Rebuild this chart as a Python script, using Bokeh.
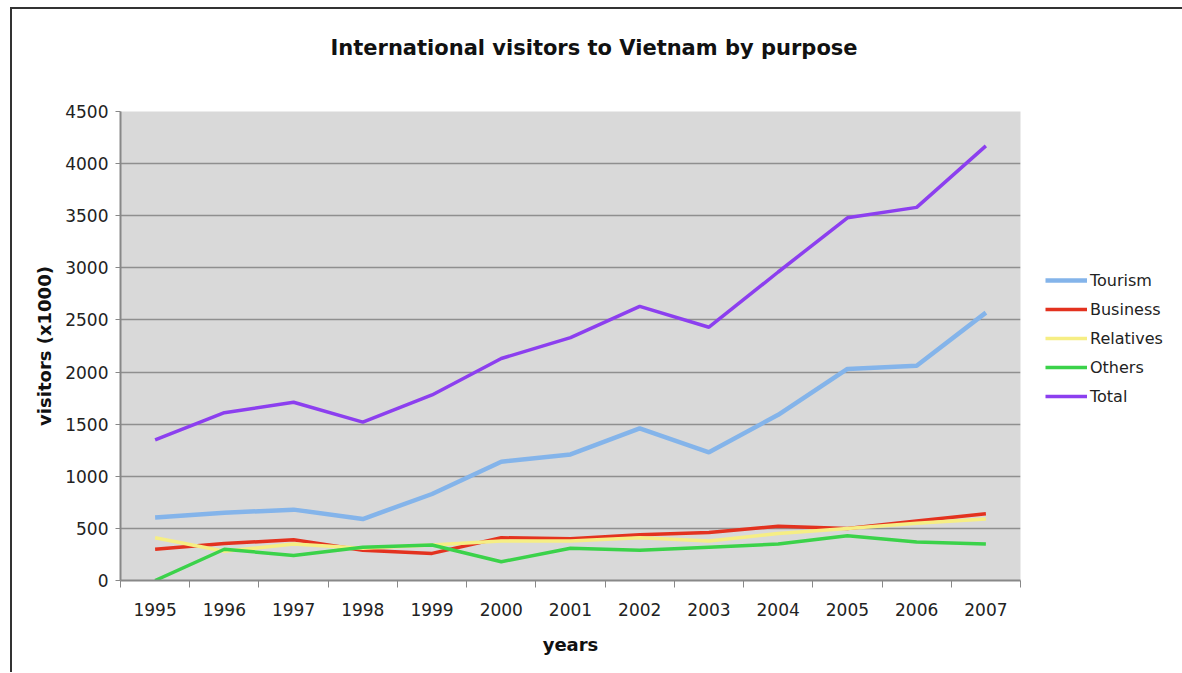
from bokeh.plotting import figure
from bokeh.models import FixedTicker, Legend, LegendItem, Range1d, Title
from bokeh.embed import file_html
from bokeh.resources import INLINE

years = [1995, 1996, 1997, 1998, 1999, 2000, 2001, 2002, 2003, 2004, 2005, 2006, 2007]
tourism = [605, 650, 680, 590, 830, 1140, 1210, 1460, 1230, 1590, 2030, 2060, 2570]
business = [300, 355, 390, 290, 260, 410, 400, 440, 460, 520, 500, 570, 640]
relatives = [410, 280, 350, 310, 340, 380, 380, 410, 380, 450, 500, 550, 590]
others = [0, 300, 240, 320, 340, 180, 310, 290, 320, 350, 430, 370, 350]
total = [1350, 1610, 1710, 1520, 1780, 2130, 2330, 2630, 2430, 2960, 3480, 3580, 4170]
y_ticks = [0, 500, 1000, 1500, 2000, 2500, 3000, 3500, 4000, 4500]

FONT = "DejaVu Sans"

p = figure(frame_width=900, frame_height=469, output_backend="svg", toolbar_location=None,
           x_range=Range1d(years[0] - 0.5, years[-1] + 0.5), y_range=Range1d(0, 4500),
           min_border_left=108, min_border_right=162, min_border_top=100, min_border_bottom=92,
           title="International visitors to Vietnam by purpose",
           styles={"margin-left": "10px", "margin-top": "7px",
                   "border-left": "2px solid #333", "border-top": "2px solid #333"})

p.background_fill_color = "#d9d9d9"
p.border_fill_color = "white"
p.outline_line_color = None

p.title.text_font = FONT
p.title.text_font_size = "21px"
p.title.text_font_style = "bold"
p.title.text_color = "#111"
p.title.align = "left"
p.title.offset = 210
p.title.standoff = 49

# empty spacer between title and plot area
p.add_layout(Title(text=" ", text_font_size="14px", standoff=9), "above")

xa = p.xaxis[0]
xa.ticker = FixedTicker(ticks=years, minor_ticks=[y + 0.5 for y in [years[0] - 1] + years])
xa.major_tick_out = 0
xa.major_tick_in = 0
xa.minor_tick_out = 7
xa.minor_tick_in = 0
xa.minor_tick_line_color = "#888"
xa.axis_line_color = "#888"
xa.axis_line_width = 2
xa.major_label_overrides = {y: str(y) for y in years}
xa.major_label_text_font = FONT
xa.major_label_text_font_size = "17px"
xa.major_label_text_color = "#222"
xa.major_label_standoff = 15
xa.axis_label = "years"
xa.axis_label_text_font = FONT
xa.axis_label_text_font_size = "18px"
xa.axis_label_text_font_style = "bold"
xa.axis_label_text_color = "#111"
xa.axis_label_standoff = 15

ya = p.yaxis[0]
ya.ticker = FixedTicker(ticks=y_ticks, minor_ticks=[])
ya.major_tick_out = 5
ya.major_tick_in = 0
ya.major_tick_line_color = "#888"
ya.axis_line_color = "#888"
ya.axis_line_width = 2
ya.major_label_text_font = FONT
ya.major_label_text_font_size = "17px"
ya.major_label_text_color = "#222"
ya.major_label_standoff = 7
ya.axis_label = "visitors (x1000)"
ya.axis_label_text_font = FONT
ya.axis_label_text_font_size = "18px"
ya.axis_label_text_font_style = "bold"
ya.axis_label_text_color = "#111"
ya.axis_label_standoff = 7

p.xgrid.visible = False
p.ygrid.ticker = FixedTicker(ticks=y_ticks)
p.ygrid.grid_line_color = "#8f8f8f"
p.ygrid.grid_line_width = 1.5

r_t = p.line(years, tourism, line_color="#84b4ea", line_width=4.5)
r_b = p.line(years, business, line_color="#e3321f", line_width=3.5)
r_r = p.line(years, relatives, line_color="#f6ee84", line_width=3.5)
r_o = p.line(years, others, line_color="#3bd24a", line_width=3.5)
r_tot = p.line(years, total, line_color="#8c3fef", line_width=3.5)

legend = Legend(items=[
    LegendItem(label="Tourism", renderers=[r_t]),
    LegendItem(label="Business", renderers=[r_b]),
    LegendItem(label="Relatives", renderers=[r_r]),
    LegendItem(label="Others", renderers=[r_o]),
    LegendItem(label="Total", renderers=[r_tot]),
], location=(25, 174))
legend.label_text_font = FONT
legend.label_text_font_size = "16px"
legend.label_text_color = "#222"
legend.glyph_width = 42
legend.glyph_height = 20
legend.label_height = 20
legend.label_standoff = 3
legend.spacing = 9
legend.padding = 0
legend.margin = 0
legend.background_fill_alpha = 0
legend.border_line_alpha = 0
p.add_layout(legend, "right")

open("out.html", "w").write(file_html(p, INLINE))
